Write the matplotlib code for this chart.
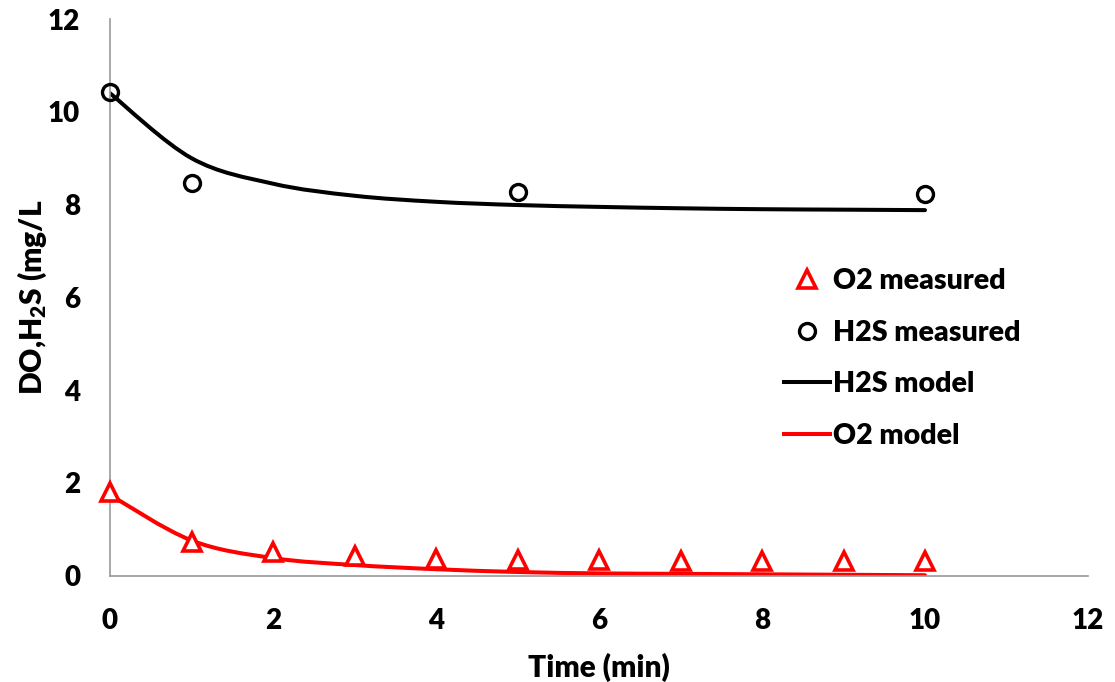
import matplotlib
matplotlib.use("Agg")
import matplotlib.pyplot as plt
from matplotlib.path import Path
from matplotlib.patches import PathPatch
from matplotlib.lines import Line2D

# Measured concentrations
time_o2 = [0, 1, 2, 3, 4, 5, 6, 7, 8, 9, 10]
o2_measured = [1.80, 0.72, 0.52, 0.43, 0.36, 0.33, 0.33, 0.31, 0.31, 0.31, 0.31]
time_h2s = [0, 1, 5, 10]
h2s_measured = [10.42, 8.46, 8.28, 8.22]

# Model output
time_model = [0, 1, 2, 3, 4, 5, 6, 7, 8, 9, 10]
h2s_model = [10.40, 9.00, 8.45, 8.19, 8.06, 7.99, 7.95, 7.92, 7.90, 7.89, 7.88]
o2_model = [1.74, 0.76, 0.38, 0.23, 0.14, 0.08, 0.05, 0.04, 0.03, 0.02, 0.01]

x_ticks = [0, 2, 4, 6, 8, 10, 12]
y_ticks = [0, 2, 4, 6, 8, 10, 12]

FONT = "Lato"
WEIGHT = "heavy"
FS_TICK = 20
FS_LABEL = 21.5
FS_LEG = 20.5

plt.rcParams["font.family"] = [FONT, "DejaVu Sans"]
plt.rcParams["font.weight"] = WEIGHT
plt.rcParams["mathtext.fontset"] = "custom"
plt.rcParams["mathtext.rm"] = f"{FONT}:{WEIGHT}"
plt.rcParams["mathtext.it"] = f"{FONT}:{WEIGHT}"
plt.rcParams["mathtext.bf"] = f"{FONT}:{WEIGHT}"


def smooth_path(xs, ys):
    """Cubic Bezier path through the points (Catmull-Rom style smoothing)."""
    pts = list(zip(xs, ys))
    n = len(pts)
    verts = [pts[0]]
    codes = [Path.MOVETO]
    for i in range(n - 1):
        p0 = pts[i - 1] if i > 0 else pts[i]
        p1 = pts[i]
        p2 = pts[i + 1]
        p3 = pts[i + 2] if i + 2 < n else pts[i + 1]
        c1 = (p1[0] + (p2[0] - p0[0]) / 6, p1[1] + (p2[1] - p0[1]) / 6)
        c2 = (p2[0] - (p3[0] - p1[0]) / 6, p2[1] - (p3[1] - p1[1]) / 6)
        verts += [c1, c2, p2]
        codes += [Path.CURVE4] * 3
    return Path(verts, codes)


fig = plt.figure(figsize=(11.15, 6.82), dpi=100)
W, H = 1115, 682
x0, x1 = 110, 1088
y0, y1 = 575.7, 19
ax = fig.add_axes([x0 / W, 1 - y0 / H, (x1 - x0) / W, (y0 - y1) / H])

ax.set_xlim(0, 12)
ax.set_ylim(0, 12)

LW = 2.9
ax.add_patch(PathPatch(smooth_path(time_model, h2s_model), fill=False,
                       edgecolor="black", lw=LW, capstyle="round",
                       transform=ax.transData, zorder=2))
ax.add_patch(PathPatch(smooth_path(time_model, o2_model), fill=False,
                       edgecolor="#ff0000", lw=LW, capstyle="round",
                       transform=ax.transData, zorder=2))

ax.plot(time_o2, o2_measured, linestyle="none", marker="^", markersize=13.5,
        markerfacecolor="white", markeredgecolor="#ff0000",
        markeredgewidth=2.6, zorder=3, clip_on=False)
ax.plot(time_h2s, h2s_measured, linestyle="none", marker="o", markersize=11.5,
        markerfacecolor="none", markeredgecolor="black",
        markeredgewidth=2.4, zorder=3, clip_on=False)

for side in ("top", "right"):
    ax.spines[side].set_visible(False)
for side in ("left", "bottom"):
    ax.spines[side].set_color("#999999")
    ax.spines[side].set_linewidth(1.2)

ax.set_xticks(x_ticks)
ax.set_yticks(y_ticks)
ax.set_xticklabels([str(v) for v in x_ticks])
ax.set_yticklabels([str(v) for v in y_ticks])
ax.tick_params(axis="x", length=0, pad=23, labelsize=FS_TICK)
ax.tick_params(axis="y", length=0, pad=21.5, labelsize=FS_TICK)
for lab in ax.get_xticklabels() + ax.get_yticklabels():
    lab.set_fontweight(WEIGHT)

ax.set_xlabel("Time (min)", fontsize=FS_LABEL, fontweight=WEIGHT)
ax.xaxis.set_label_coords(0.5, (y0 - 667) / (y0 - y1))
ax.xaxis.label.set_va("center")
ax.set_ylabel("DO,H$_2$S (mg/L", fontsize=FS_LABEL, fontweight=WEIGHT)
ax.yaxis.set_label_coords((32 - x0) / (x1 - x0), 0.5)
ax.yaxis.label.set_va("center")

handles = [
    Line2D([], [], linestyle="none", marker="^", markersize=13.5,
           markerfacecolor="white", markeredgecolor="#ff0000", markeredgewidth=2.6),
    Line2D([], [], linestyle="none", marker="o", markersize=11.5,
           markerfacecolor="none", markeredgecolor="black", markeredgewidth=2.4),
    Line2D([], [], color="black", lw=LW),
    Line2D([], [], color="#ff0000", lw=LW),
]
labels = ["O2 measured", "H2S measured", "H2S model", "O2 model"]
leg = ax.legend(handles, labels, loc="upper left",
                bbox_to_anchor=(784 / W, 1 - 268 / H),
                bbox_transform=fig.transFigure, frameon=False,
                fontsize=FS_LEG, handlelength=1.6, handletextpad=0.12,
                labelspacing=0.9, borderpad=0, borderaxespad=0)
for t in leg.get_texts():
    t.set_fontweight(WEIGHT)

fig.savefig("out.png", dpi=100)
